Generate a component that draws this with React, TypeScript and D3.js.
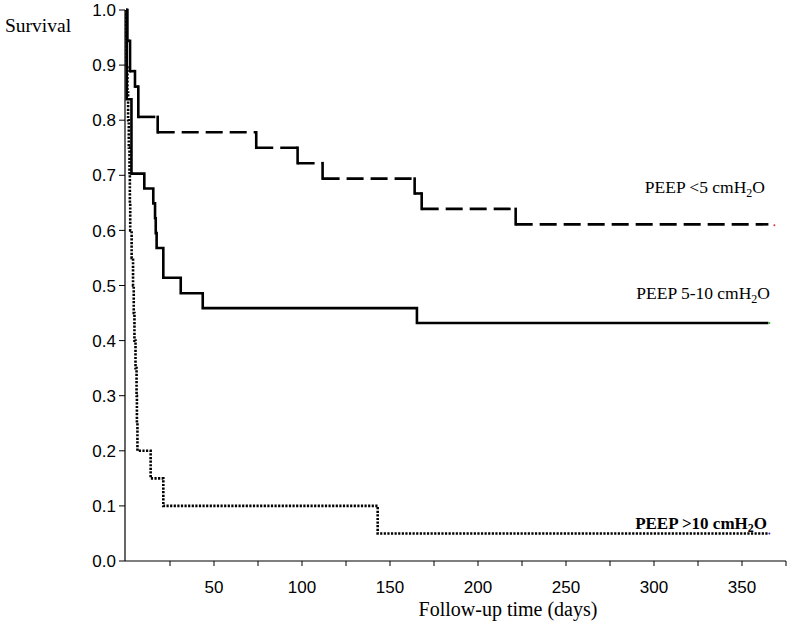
import * as d3 from 'd3';

// Kaplan-Meier estimates (time in days, survival proportion)
const lowTimes = [0, 0.8, 2.3, 5.1, 7, 18, 74, 97.5, 111.7, 164, 168, 221.4];
const lowSurv = [1, 0.944, 0.889, 0.861, 0.806, 0.778, 0.75, 0.722, 0.694, 0.667, 0.639, 0.611];

const midTimes = [0, 0.4, 3.1, 10.4, 15.5, 16.5, 16.9, 17.4, 21.2, 31.1, 43.6, 165.3];
const midSurv = [1, 0.838, 0.703, 0.676, 0.649, 0.622, 0.595, 0.568, 0.514, 0.486, 0.459, 0.432];

const highTimes = [0, 0.2, 0.4, 0.8, 1.2, 1.6, 2.0, 2.2, 2.4, 3.2, 4.0, 4.4, 4.8, 5.4, 6.0, 6.2, 6.5, 14, 21.2, 143];
const highSurv = [1, 0.95, 0.9, 0.85, 0.8, 0.75, 0.7, 0.65, 0.6, 0.55, 0.5, 0.45, 0.4, 0.35, 0.3, 0.25, 0.2, 0.15, 0.1, 0.05];

const followUpEnd = 365;

const xTicks = [25, 50, 75, 100, 125, 150, 175, 200, 225, 250, 275, 300, 325, 350, 375];
const xLabels = [50, 100, 150, 200, 250, 300, 350];
const yTicks = [0, 0.1, 0.2, 0.3, 0.4, 0.5, 0.6, 0.7, 0.8, 0.9, 1.0];

const serif = "'Liberation Serif', 'Times New Roman', serif";
const sans = "'Liberation Sans', Arial, sans-serif";

type Pt = [number, number];

// horizontal pieces of a step curve, each drawn on its own so the dash restarts at every step
function flatSegments(times: number[], surv: number[], end: number): [Pt, Pt][] {
  return times.map((t, i) => [[t, surv[i]], [i + 1 < times.length ? times[i + 1] : end, surv[i]]] as [Pt, Pt]);
}

function dropSegments(times: number[], surv: number[]): [Pt, Pt][] {
  return times.slice(1).map((t, i) => [[t, surv[i]], [t, surv[i + 1]]] as [Pt, Pt]);
}

export default function App() {
  const width = 800;
  const height = 631;

  const x = d3.scaleLinear().domain([0, 375]).range([126, 786]);
  const y = d3.scaleLinear().domain([0, 1]).range([561, 10]);

  const stepLine = d3.line<Pt>()
    .x(d => x(d[0]))
    .y(d => y(d[1]))
    .curve(d3.curveStepAfter);

  const midPath = stepLine([...midTimes.map((t, i) => [t, midSurv[i]] as Pt), [followUpEnd, midSurv[midSurv.length - 1]]]);
  const highPath = stepLine([...highTimes.map((t, i) => [t, highSurv[i]] as Pt), [followUpEnd, highSurv[highSurv.length - 1]]]);
  const lowFlat = flatSegments(lowTimes, lowSurv, followUpEnd);
  const lowDrops = dropSegments(lowTimes, lowSurv);

  const x0 = x(0) - 1;
  const y0 = y(0);

  return (
    <svg width={width} height={height} style={{ position: 'absolute', left: 0, top: 0, background: '#fff' }}>
      {/* axes */}
      <line x1={x0} x2={x0} y1={y(1)} y2={y0} stroke="#000" strokeWidth={1.2} />
      <line x1={x0} x2={x(375)} y1={y0} y2={y0} stroke="#000" strokeWidth={1.2} />
      {yTicks.map(v => (
        <g key={v}>
          <line x1={x0 - 6} x2={x0} y1={y(v)} y2={y(v)} stroke="#000" strokeWidth={1} />
          <text x={116} y={y(v)} dy="0.36em" textAnchor="end" fontFamily={sans} fontSize={17} fill="#000">
            {v.toFixed(1)}
          </text>
        </g>
      ))}
      {xTicks.map(v => (
        <line key={v} x1={x(v)} x2={x(v)} y1={y0} y2={y0 + 5} stroke="#000" strokeWidth={1} />
      ))}
      {xLabels.map(v => (
        <text key={v} x={x(v)} y={593} textAnchor="middle" fontFamily={sans} fontSize={17} fill="#000">
          {v}
        </text>
      ))}
      <text x={5} y={32} fontFamily={serif} fontSize={19.5} fill="#000">Survival</text>
      <text x={508} y={616} textAnchor="middle" fontFamily={serif} fontSize={20} fill="#000">
        Follow-up time (days)
      </text>

      {/* curves */}
      {lowFlat.map((s, i) => (
        <line key={'f' + i} x1={x(s[0][0])} y1={y(s[0][1])} x2={x(s[1][0])} y2={y(s[1][1])}
          stroke="#000" strokeWidth={2.6} strokeDasharray="17,7" />
      ))}
      {lowDrops.map((s, i) => (
        <line key={'d' + i} x1={x(s[0][0])} y1={y(s[0][1]) - 1.3} x2={x(s[1][0])} y2={y(s[1][1]) + 1.3}
          stroke="#000" strokeWidth={2.6} />
      ))}
      <path d={midPath ?? ''} fill="none" stroke="#000" strokeWidth={2.6} />
      <path d={highPath ?? ''} fill="none" stroke="#000" strokeWidth={2.6} strokeDasharray="2.2,1.4" />

      {/* end-of-curve marks */}
      <circle cx={x(followUpEnd) + 6} cy={y(lowSurv[lowSurv.length - 1]) + 1} r={1} fill="#e03030" />
      <circle cx={x(followUpEnd) + 1} cy={y(midSurv[midSurv.length - 1])} r={1} fill="#30b030" />
      <circle cx={x(followUpEnd) + 1} cy={y(highSurv[highSurv.length - 1])} r={1} fill="#3030c0" />

      {/* curve labels */}
      <text x={765} y={193} textAnchor="end" fontFamily={serif} fontSize={17.5} fill="#000">
        PEEP &lt;5 cmH<tspan fontSize={12} dy={4}>2</tspan><tspan dy={-4}>O</tspan>
      </text>
      <text x={770} y={299} textAnchor="end" fontFamily={serif} fontSize={17.5} fill="#000">
        PEEP 5-10 cmH<tspan fontSize={12} dy={4}>2</tspan><tspan dy={-4}>O</tspan>
      </text>
      <text x={767} y={529} textAnchor="end" fontFamily={serif} fontSize={17} fontWeight="bold" fill="#000">
        PEEP &gt;10 cmH<tspan fontSize={12} dy={3}>2</tspan><tspan dy={-3}>O</tspan>
      </text>
    </svg>
  );
}
